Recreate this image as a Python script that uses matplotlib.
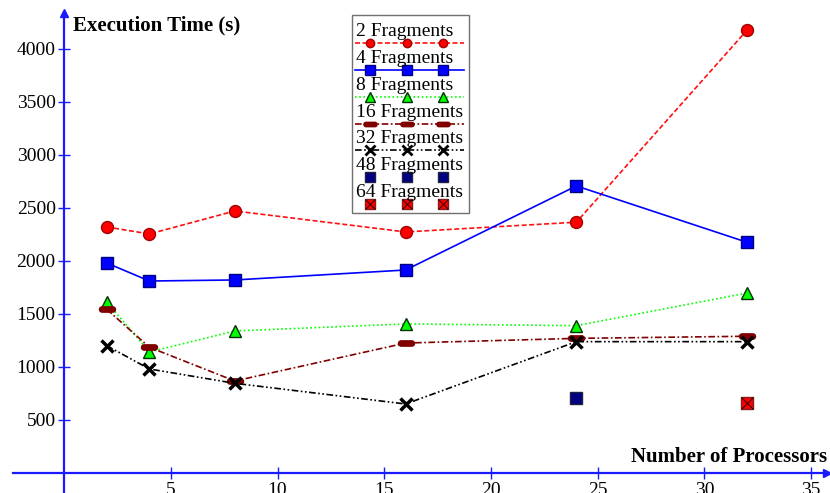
import numpy as np
import matplotlib
matplotlib.use("Agg")
import matplotlib.pyplot as plt
from matplotlib.path import Path
from matplotlib.lines import Line2D
from matplotlib.patches import Rectangle

plt.rcParams['font.family'] = ['Liberation Serif', 'DejaVu Serif']

# ---- data ----
procs = [2, 4, 8, 16, 24, 32]
frag2 = [2321, 2255, 2472, 2274, 2366, 4179]
frag4 = [1981, 1811, 1821, 1915, 2708, 2176]
frag8 = [1613, 1142, 1340, 1406, 1390, 1698]
frag16 = [1544, 1186, 868, 1226, 1270, 1290]
frag32 = [1201, 981, 846, 651, 1239, 1239]
procs48 = [24]
frag48 = [705]
procs64 = [32]
frag64 = [658]
labels = ["2 Fragments", "4 Fragments", "8 Fragments", "16 Fragments",
          "32 Fragments", "48 Fragments", "64 Fragments"]
xticks = [5, 10, 15, 20, 25, 30, 35]
yticks = [500, 1000, 1500, 2000, 2500, 3000, 3500, 4000]

W, H = 830, 493
fig = plt.figure(figsize=(W / 100, H / 100), dpi=100)
ax = fig.add_axes([0, 0, 1, 1])
ax.set_xlim(-3.0, 35.88)
ax.set_ylim(-188.7, 4462)

axc = '#1a1aff'
for s in ['top', 'right']:
    ax.spines[s].set_visible(False)
ax.spines['left'].set_position(('data', 0))
ax.spines['bottom'].set_position(('data', 0))
ax.spines['left'].set_color(axc)
ax.spines['bottom'].set_color(axc)
ax.spines['left'].set_linewidth(1.6)
ax.spines['bottom'].set_linewidth(1.6)
ax.spines['bottom'].set_bounds(-2.4, 35.75)
ax.spines['left'].set_bounds(-190, 4340)
ax.plot([35.75], [0], marker='>', color=axc, ms=6, clip_on=False)
ax.plot([0], [4340], marker='^', color=axc, ms=6, clip_on=False)

ax.set_xticks(xticks)
ax.set_yticks(yticks)
ax.tick_params(direction='inout', length=8, width=1, color=axc,
               labelsize=14, pad=2)
ax.tick_params(axis='x', pad=2.5)
for lab in ax.get_xticklabels() + ax.get_yticklabels():
    lab.set_fontfamily('Liberation Serif')

# stadium (pill) marker for 16 fragments
r = 0.33
t1 = np.linspace(-np.pi / 2, np.pi / 2, 12)
t2 = np.linspace(np.pi / 2, 3 * np.pi / 2, 12)
right = np.column_stack([1 - r + r * np.cos(t1), r * np.sin(t1)])
left = np.column_stack([-1 + r + r * np.cos(t2), r * np.sin(t2)])
pv = np.vstack([right, left, right[:1]])
pill = Path(pv, [Path.MOVETO] + [Path.LINETO] * (len(pv) - 2) + [Path.CLOSEPOLY])

styles = [
    dict(color='#ff1010', ls=(0, (3, 1.5)), marker='o', mfc='#ff0000', mec='#a00000', ms=8.6),
    dict(color='#0000ff', ls='-', marker='s', mfc='#0000ff', mec='#000080', ms=8.8),
    dict(color='#00ff00', ls=(0, (1, 1.5)), marker='^', mfc='#00ff00', mec='#003000', ms=8.8),
    dict(color='#800000', ls=(0, (4, 1.5, 1, 1.5)), marker=pill, mfc='#800000', mec='#800000', ms=11.5),
    dict(color='#000000', ls=(0, (4, 1.5, 1, 1.5, 1, 1.5)), marker='x', mfc='k', mec='k', ms=9, mew=2.5),
]
series = [frag2, frag4, frag8, frag16, frag32]
for ys, st in zip(series, styles):
    ax.plot(procs, ys, lw=1.2, **st)

ax.plot(procs48, frag48, ls='none', marker='s', mfc='#000080', mec='#202040', ms=8.8)
ax.plot(procs64, frag64, ls='none', marker='s', mfc='#ff0000', mec='#802020', ms=8.8)
ax.plot(procs64, frag64, ls='none', marker='x', mec='#400000', ms=8, mew=0.8)

# axis titles
fig.text(73 / W, 1 - 25 / H, "Execution Time (s)", fontsize=15, fontweight='bold',
         ha='left', va='center')
fig.text(827 / W, 1 - 457 / H, "Number of Processors", fontsize=15, fontweight='bold',
         ha='right', va='center')

# legend (manual)
fig.patches.append(Rectangle((352 / W, 1 - 213 / H), (469 - 352) / W, (213 - 15) / H,
                             transform=fig.transFigure, fill=True, fc='white',
                             ec='#707070', lw=1, zorder=5))
mx = np.array([370, 407, 443]) / W
legsize = [6.0, 7.0, 6.8, 9.5, 6.5]
for i, lab in enumerate(labels):
    ty = 31.7 + i * 26.8
    ly = ty + 11.5
    fig.text(355.5 / W, 1 - ty / H, lab, fontsize=14, ha='left', va='center', zorder=7)
    yy = 1 - ly / H
    if i < 5:
        st = dict(styles[i])
        fig.add_artist(Line2D([355 / W, 464 / W], [yy, yy], color=st['color'], ls=st['ls'],
                              lw=1.2, transform=fig.transFigure, zorder=6))
        st.pop('color'); st.pop('ls')
        st['ms'] = legsize[i]
        if 'mew' in st:
            st['mew'] = 2.0
        fig.add_artist(Line2D(mx, [yy] * 3, ls='none', transform=fig.transFigure,
                              zorder=6, **st))
    elif i == 5:
        fig.add_artist(Line2D(mx, [yy] * 3, ls='none', marker='s', mfc='#000080',
                              mec='#202040', ms=7, transform=fig.transFigure, zorder=6))
    else:
        fig.add_artist(Line2D(mx, [yy] * 3, ls='none', marker='s', mfc='#ff0000',
                              mec='#802020', ms=7, transform=fig.transFigure, zorder=6))
        fig.add_artist(Line2D(mx, [yy] * 3, ls='none', marker='x', mec='#400000',
                              ms=6.5, mew=0.8, transform=fig.transFigure, zorder=6))

fig.savefig("out.png", dpi=100)
